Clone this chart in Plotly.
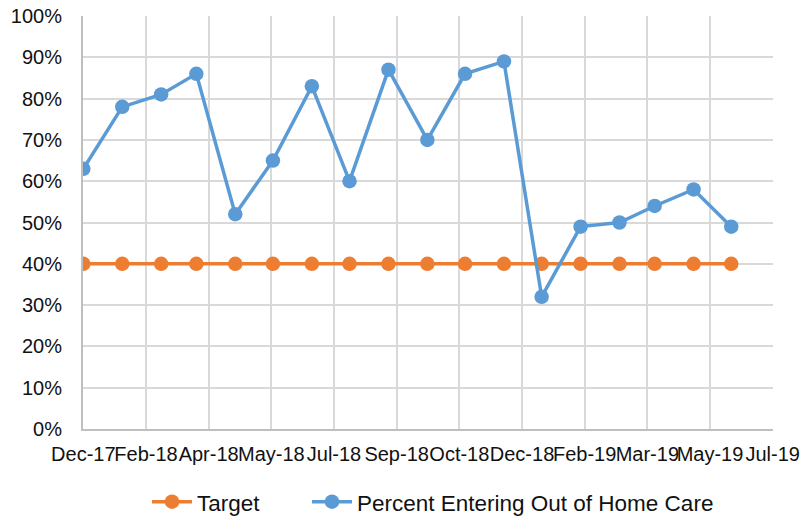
import pandas as pd
import plotly.graph_objects as go

# Monthly observations, Dec 2017 through May 2019
months = ["2017-12-01", "2018-01-01", "2018-02-01", "2018-03-01", "2018-04-01",
          "2018-05-01", "2018-06-01", "2018-07-01", "2018-08-01", "2018-09-01",
          "2018-10-01", "2018-11-01", "2018-12-01", "2019-01-01", "2019-02-01",
          "2019-03-01", "2019-04-01", "2019-05-01"]
target = [0.40] * 18
percent_entering = [0.63, 0.78, 0.81, 0.86, 0.52, 0.65, 0.83, 0.60, 0.87, 0.70,
                    0.86, 0.89, 0.32, 0.49, 0.50, 0.54, 0.58, 0.49]

tick_labels = ["Dec-17", "Feb-18", "Apr-18", "May-18", "Jul-18", "Sep-18",
               "Oct-18", "Dec-18", "Feb-19", "Mar-19", "May-19", "Jul-19"]

# Date axis spans a little past the last observation; ticks evenly spaced
x_start = pd.Timestamp("2017-12-01")
x_end = pd.Timestamp("2019-06-03")
tick_pos = pd.date_range(x_start, x_end, periods=len(tick_labels))
x_range = [x_start - pd.Timedelta(hours=6), x_end + pd.Timedelta(hours=6)]

ORANGE = "#ED7D31"
BLUE = "#5B9BD5"
FONT = "Liberation Sans, Arial, sans-serif"

fig = go.Figure()
fig.add_trace(go.Scatter(
    x=months, y=target, name="Target", mode="lines+markers",
    line=dict(color=ORANGE, width=3.5),
    marker=dict(color=ORANGE, size=14.5),
    legend="legend",
))
fig.add_trace(go.Scatter(
    x=months, y=percent_entering, name="Percent Entering Out of Home Care",
    mode="lines+markers",
    line=dict(color=BLUE, width=3.5),
    marker=dict(color=BLUE, size=14.5),
    legend="legend2",
))

legend_common = dict(orientation="h", xanchor="left", y=-0.177,
                     yanchor="middle", font=dict(size=22.5), itemwidth=40)

fig.update_layout(
    width=804, height=516,
    margin=dict(l=83, r=31, t=16, b=87, autoexpand=False),
    paper_bgcolor="white", plot_bgcolor="white",
    font=dict(family=FONT, size=20, color="#111111"),
    showlegend=True,
    legend=dict(x=0.0928, **legend_common),
    legend2=dict(x=0.3246, **legend_common),
    xaxis=dict(
        type="date", range=x_range,
        tickvals=list(tick_pos), ticktext=tick_labels, tickangle=0,
        showgrid=True, gridcolor="#d9d9d9", gridwidth=1.5,
        showline=True, linecolor="#bfbfbf", linewidth=2,
        ticks="", ticklabelstandoff=6, zeroline=False,
    ),
    yaxis=dict(
        range=[0, 1], dtick=0.1, tickformat=".0%",
        showgrid=True, gridcolor="#d9d9d9", gridwidth=1.5,
        showline=True, linecolor="#bfbfbf", linewidth=2,
        ticks="", ticklabelstandoff=15, zeroline=False,
    ),
)

fig.write_html("out.html")
